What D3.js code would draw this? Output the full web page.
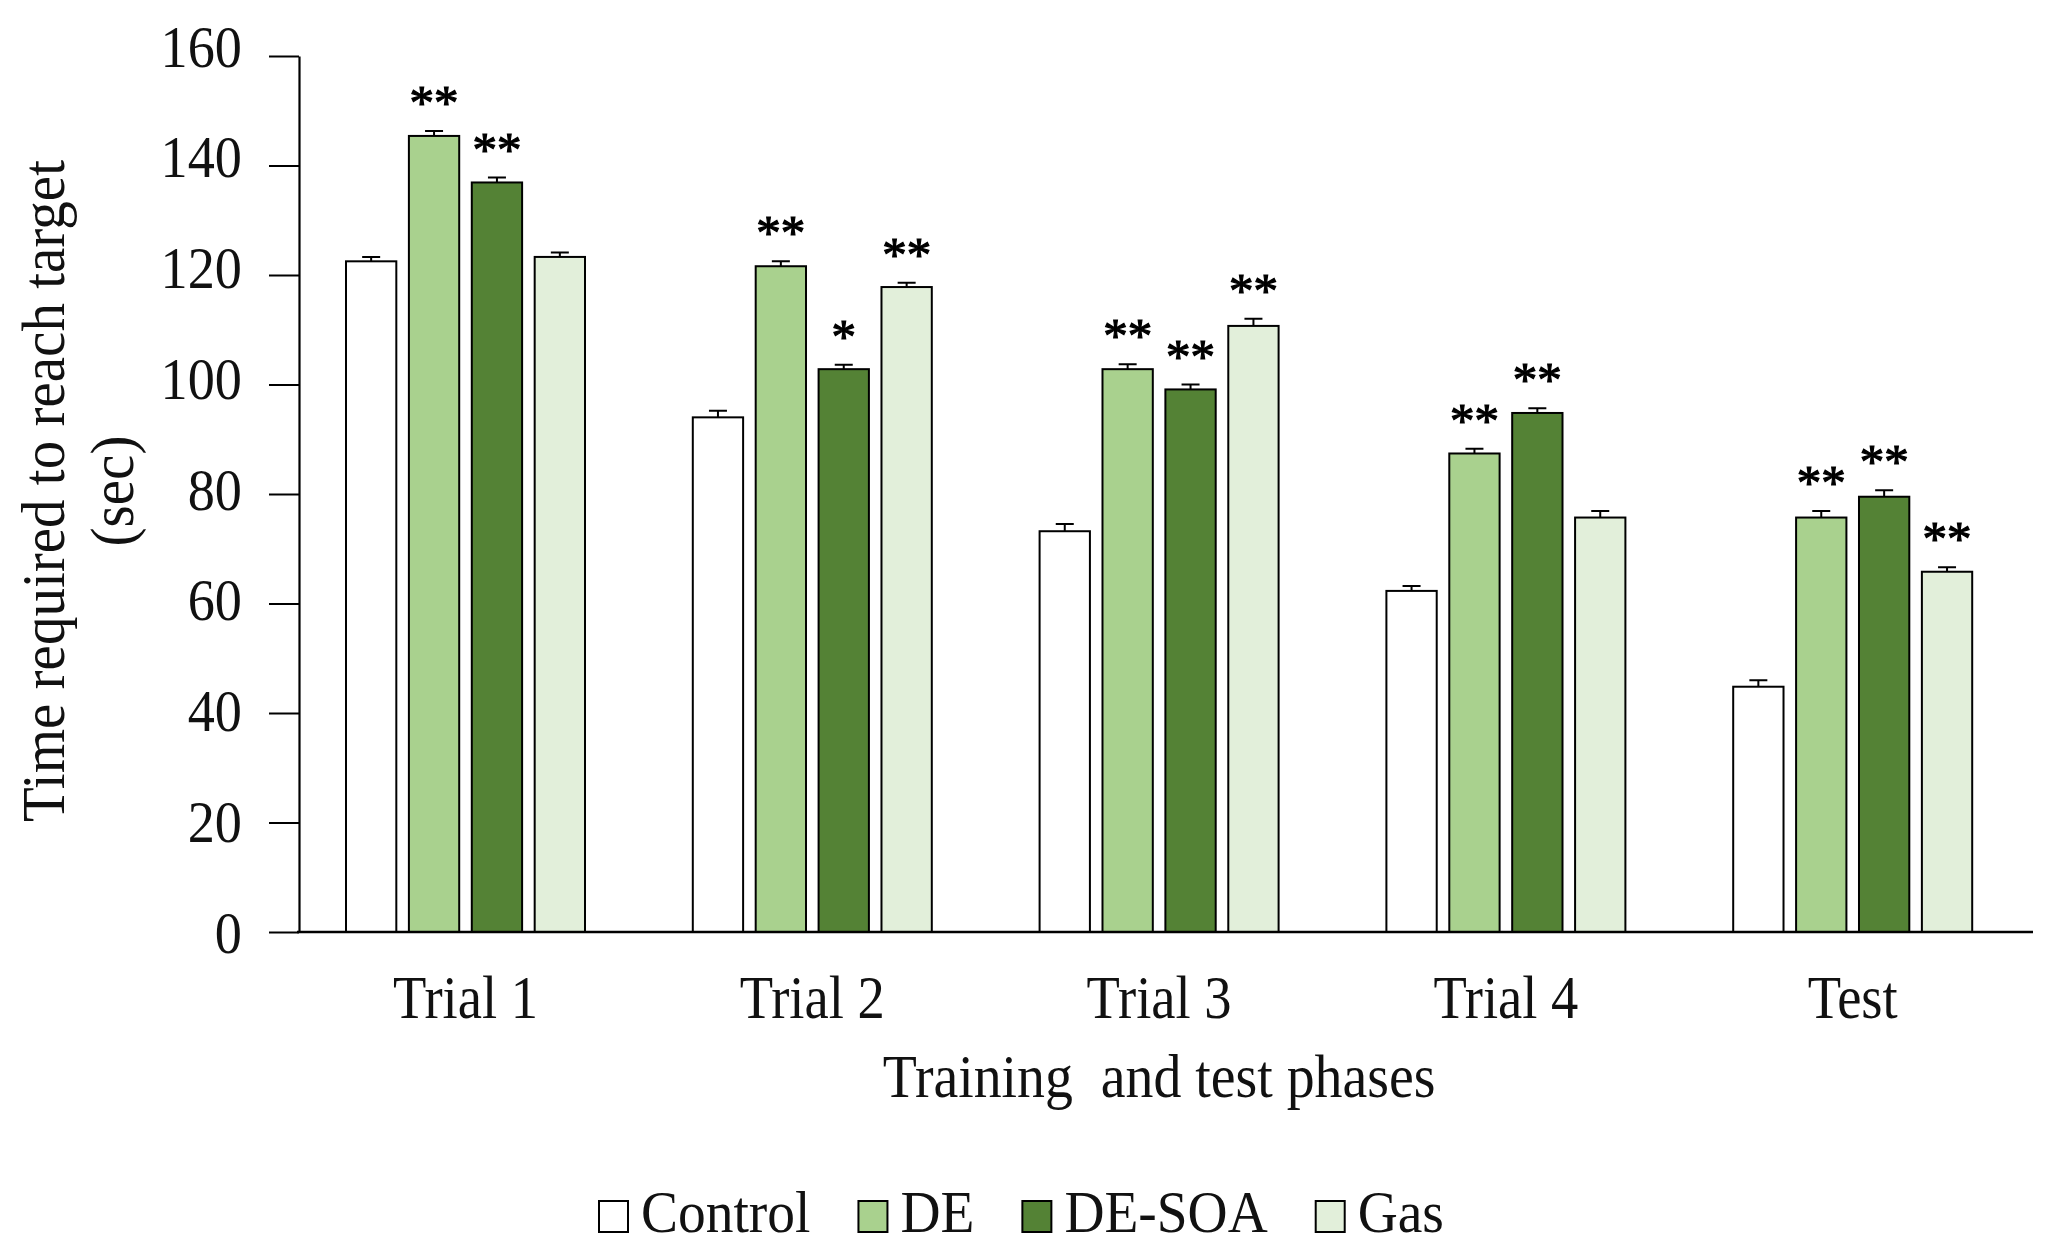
<!DOCTYPE html>
<html>
<head>
<meta charset="utf-8">
<script src="https://cdn.jsdelivr.net/npm/d3@7"></script>
<style>
  body { margin: 0; background: #fff; }
  svg { display: block; font-family: 'Liberation Serif', 'Times New Roman', serif; }
</style>
</head>
<body>
<svg id="chart" width="2048" height="1247"></svg>
<script>
// phases on the x axis and the four groups
const phases = ['Trial 1', 'Trial 2', 'Trial 3', 'Trial 4', 'Test'];
const groups = ['Control', 'DE', 'DE-SOA', 'Gas'];

// mean time (sec) per phase
const control = [122.5, 94.0, 73.2, 62.3, 44.8];
const de = [145.4, 121.6, 102.8, 87.4, 75.7];
const deSoa = [136.9, 102.8, 99.1, 94.8, 79.5];
const gas = [123.3, 117.8, 110.7, 75.7, 65.8];

// standard errors
const controlErr = [0.8, 1.2, 1.3, 0.9, 1.2];
const deErr = [0.9, 0.9, 0.9, 0.85, 1.2];
const deSoaErr = [0.9, 0.8, 0.9, 0.85, 1.2];
const gasErr = [0.8, 0.8, 1.3, 1.2, 0.8];

// significance marks
const controlSig = ['', '', '', '', ''];
const deSig = ['**', '**', '**', '**', '**'];
const deSoaSig = ['**', '*', '**', '**', '**'];
const gasSig = ['', '**', '**', '', '**'];

const yTicks = [0, 20, 40, 60, 80, 100, 120, 140, 160];

const COLORS = ['#ffffff', '#a9d18e', '#548235', '#e2efda'];

const series = [
  { name: groups[0], values: control, err: controlErr, sig: controlSig },
  { name: groups[1], values: de, err: deErr, sig: deSig },
  { name: groups[2], values: deSoa, err: deSoaErr, sig: deSoaSig },
  { name: groups[3], values: gas, err: gasErr, sig: gasSig },
];

const rows = [];
series.forEach((s) => {
  phases.forEach((p, pi) => {
    rows.push({ phase: p, group: s.name, value: s.values[pi], err: s.err[pi], sig: s.sig[pi] });
  });
});

const svg = d3.select('#chart');
const M = { left: 299, right: 2033, top: 56, bottom: 932 };
const SQUEEZE = 0.88; // the original type is a narrow Times

const x0 = d3.scaleBand().domain(phases).range([M.left, M.right]);
const x1 = d3.scaleBand().domain(groups).range([47, 286]).paddingInner(0.2);
const y = d3.scaleLinear().domain([0, 160]).range([M.bottom, M.top]);
// tick labels sit a little off the tick marks in the original
const yLab = d3.scaleLinear().domain([0, 160]).range([M.bottom, 46]);
const color = d3.scaleOrdinal(groups, COLORS);

// y axis
const yAxis = svg.append('g')
  .attr('transform', `translate(${M.left},0)`)
  .call(d3.axisLeft(y).tickValues(yTicks).tickSize(30).tickSizeOuter(0));
yAxis.select('.domain').attr('stroke', '#000').attr('stroke-width', 2.2);
yAxis.selectAll('.tick line').attr('stroke', '#000').attr('stroke-width', 2);
yAxis.selectAll('.tick text')
  .attr('font-size', 59)
  .attr('font-family', 'Liberation Serif, Times New Roman, serif')
  .attr('fill', '#111')
  .attr('x', 0)
  .attr('y', 0)
  .attr('dy', null)
  .attr('transform', (d) => `translate(-57,${yLab(d) - y(d) + 20}) scale(0.92,1)`);

// bars
const bar = svg.append('g')
  .selectAll('g')
  .data(rows)
  .join('g')
  .attr('transform', (d) => `translate(${x0(d.phase) + x1(d.group)},0)`);

bar.append('rect')
  .attr('x', 0)
  .attr('y', (d) => y(d.value))
  .attr('width', x1.bandwidth())
  .attr('height', (d) => y(0) - y(d.value))
  .attr('fill', (d) => color(d.group))
  .attr('stroke', '#000')
  .attr('stroke-width', 2);

// error bars (upper only)
const cap = 9;
bar.append('path')
  .attr('d', (d) => {
    const cx = x1.bandwidth() / 2;
    const y1 = y(d.value), y2 = y(d.value + d.err);
    return `M${cx},${y1}V${y2}M${cx - cap},${y2}H${cx + cap}`;
  })
  .attr('fill', 'none')
  .attr('stroke', '#000')
  .attr('stroke-width', 2);

// significance stars
bar.filter((d) => d.sig)
  .append('text')
  .attr('x', x1.bandwidth() / 2)
  .attr('y', (d) => y(d.value + d.err) - 12)
  .attr('text-anchor', 'middle')
  .attr('font-size', 49)
  .attr('fill', '#000')
  .attr('stroke', '#000')
  .attr('stroke-width', 1.2)
  .text((d) => d.sig);

// x axis baseline
svg.append('line')
  .attr('x1', M.left - 2).attr('x2', M.right)
  .attr('y1', y(0)).attr('y2', y(0))
  .attr('stroke', '#000')
  .attr('stroke-width', 2.6);

function squeezed(sel, x, yPos, size, str, anchor, sx) {
  return sel.append('text')
    .attr('transform', `translate(${x},${yPos}) scale(${sx || SQUEEZE},1)`)
    .attr('text-anchor', anchor || 'middle')
    .attr('font-size', size)
    .attr('fill', '#111')
    .text(str);
}

// phase labels
const groupMid = (x1.range()[0] + x1.range()[1]) / 2;
const xLabels = svg.append('g');
phases.forEach((p) => squeezed(xLabels, x0(p) + groupMid, 1018, 62, p));

// axis titles
squeezed(svg, x0(phases[2]) + groupMid, 1097, 62, 'Training  and test phases', 'middle', 0.9)
  .style('white-space', 'pre');

const yTitle = svg.append('g')
  .attr('transform', 'translate(0,491) rotate(-90)');
yTitle.append('text')
  .attr('transform', 'translate(0,64) scale(0.92,1)')
  .attr('text-anchor', 'middle')
  .attr('font-size', 62)
  .attr('fill', '#111')
  .text('Time required to reach target');
yTitle.append('text')
  .attr('transform', 'translate(0,133) scale(0.92,1)')
  .attr('text-anchor', 'middle')
  .attr('font-size', 62)
  .attr('fill', '#111')
  .text('(sec)');

// legend
const LEG_SX = 0.94;
const legend = svg.append('g').attr('transform', 'translate(599,1201)');
let cursor = 0;
groups.forEach((g) => {
  const item = legend.append('g').attr('transform', `translate(${cursor},0)`);
  item.append('rect')
    .attr('width', 29).attr('height', 31)
    .attr('fill', color(g))
    .attr('stroke', '#000')
    .attr('stroke-width', 2);
  const t = squeezed(item, 42, 31, 59, g, 'start', LEG_SX);
  cursor += 42 + t.node().getComputedTextLength() * LEG_SX + 48;
});
</script>
</body>
</html>
